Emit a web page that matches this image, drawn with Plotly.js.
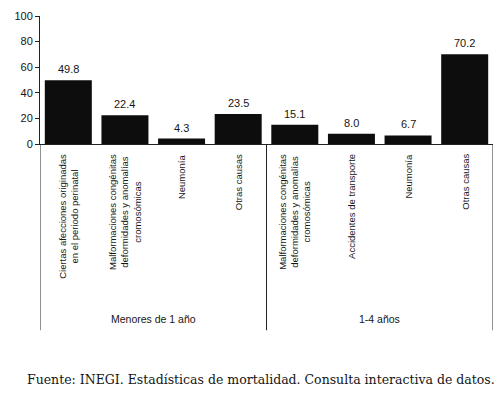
<!DOCTYPE html>
<html>
<head>
<meta charset="utf-8">
<script src="https://cdn.plot.ly/plotly-3.0.1.min.js"></script>
<style>html,body{margin:0;padding:0;background:#fff;}#chart{width:500px;height:397px;}</style>
</head>
<body>
<div id="chart"></div>
<script>
// Data
const categories = [
  "Ciertas afecciones originadas<br>en el periodo perinatal",
  "Malformaciones congénitas<br>deformidades y anomalías<br>cromosómicas",
  "Neumonía",
  "Otras causas",
  "Malformaciones congénitas<br>deformidades y anomalías<br>cromosómicas",
  "Accidentes de transporte",
  "Neumonía",
  "Otras causas"
];
const values = [49.8, 22.4, 4.3, 23.5, 15.1, 8.0, 6.7, 70.2];
const valueLabels = ["49.8", "22.4", "4.3", "23.5", "15.1", "8.0", "6.7", "70.2"];
const groups = ["Menores de 1 año", "1-4 años"];
const groupSizes = [4, 4];
const yTicks = [0, 20, 40, 60, 80, 100];
const sourceNote = "Fuente: INEGI. Estadísticas de mortalidad. Consulta interactiva de datos.";

const xs = values.map((v, i) => i);
const sans = "Liberation Sans, Arial, sans-serif";
const ink = "#151515";

const annotations = [];
// value labels
values.forEach((v, i) => {
  annotations.push({x: i, y: v, xref: "x", yref: "y", text: valueLabels[i], showarrow: false,
    yanchor: "bottom", yshift: 3, font: {family: sans, size: 11, color: ink}});
});
// rotated category labels
categories.forEach((c, i) => {
  annotations.push({x: i, y: 0, xref: "x", yref: "paper", text: c, showarrow: false,
    textangle: -90, align: "center", xanchor: "center", yanchor: "top", yshift: -8,
    font: {family: sans, size: 9.5, color: ink}});
});
// group labels & separators
const shapes = [];
let start = -0.5;
const sepBottom = -1.455;
shapes.push({type: "line", xref: "x", yref: "paper", x0: start, x1: start, y0: 0, y1: sepBottom,
  line: {color: "#222", width: 1}});
groups.forEach((g, k) => {
  const end = start + groupSizes[k];
  annotations.push({x: (start + end) / 2, y: -1.37, xref: "x", yref: "paper", text: g, showarrow: false,
    yanchor: "middle", font: {family: sans, size: 10.5, color: ink}});
  shapes.push({type: "line", xref: "x", yref: "paper", x0: end, x1: end, y0: 0, y1: sepBottom,
    line: {color: "#222", width: 1}});
  start = end;
});

const plotH = 397 - 16 - 253;
// source note
annotations.push({x: (261 - 40) / 453, y: (144 - 379) / plotH, xref: "paper", yref: "paper",
  text: sourceNote, showarrow: false, xanchor: "center", yanchor: "middle",
  font: {family: "DejaVu Serif, serif", size: 12.5, color: ink}});

const layout = {
  width: 500, height: 397,
  margin: {l: 40, r: 7, t: 16, b: 253},
  paper_bgcolor: "#fff", plot_bgcolor: "#fff",
  showlegend: false,
  bargap: 0.17,
  xaxis: {range: [-0.5, 7.5], showticklabels: false, ticks: "", showgrid: false, zeroline: false,
    showline: true, linecolor: "#222", linewidth: 1, fixedrange: true},
  yaxis: {range: [0, 100], tickvals: yTicks, ticks: "outside", ticklen: 4, tickcolor: "#222",
    showgrid: false, zeroline: false, showline: true, linecolor: "#222", linewidth: 1,
    tickfont: {family: sans, size: 11, color: ink}, fixedrange: true},
  shapes: shapes,
  annotations: annotations
};

Plotly.newPlot("chart", [{
  type: "bar", x: xs, y: values,
  marker: {color: "#0d0d0d", line: {width: 0}},
  hoverinfo: "skip"
}], layout, {staticPlot: true, displayModeBar: false});
</script>
</body>
</html>
